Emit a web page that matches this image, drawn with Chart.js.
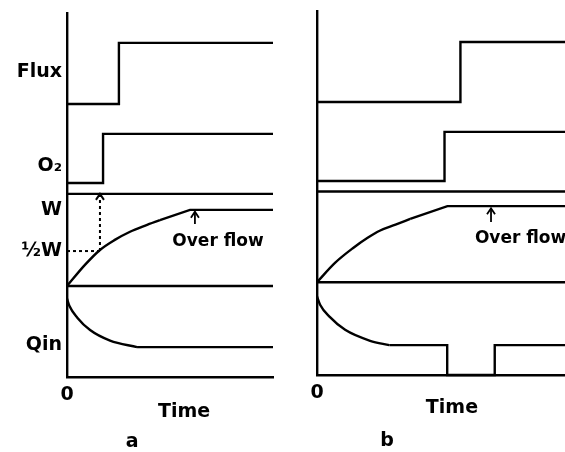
<!DOCTYPE html>
<html>
<head>
<meta charset="utf-8">
<script src="https://cdn.jsdelivr.net/npm/chart.js@4.4.0/dist/chart.umd.min.js"></script>
<style>
html, body { margin: 0; padding: 0; background: #fff; overflow: hidden; }
.panel { position: absolute; top: 0; height: 452px; }
#panelA { left: 0; width: 290px; }
#panelB { left: 290px; width: 275px; }
</style>
</head>
<body>
<div class="panel" id="panelA"><canvas id="chartA"></canvas></div>
<div class="panel" id="panelB"><canvas id="chartB"></canvas></div>
<script>
// level labels on the left axis (panel a only)
const levelLabels = ["Flux", "O₂", "W", "½W", "Qin"];
const levelValues = [83.8, 58, 45.9, 34.6, 8.8];

// panel a  (time 0..10, level 0..100)
const fluxTA = [0, 2.52, 2.52, 10];
const fluxVA = [75, 75, 91.8, 91.8];
const o2TA = [0, 1.75, 1.75, 10];
const o2VA = [53.3, 53.3, 66.8, 66.8];
const wTA = [0, 10];
const wVA = [50.3, 50.3];
const waterCurveTA = [0, 0.87, 1.6, 2.3, 3.06, 3.8, 4.51];
const waterCurveVA = [25, 30.8, 34.9, 37.6, 39.9, 41.6, 43.1];
const waterLineTA = [4.51, 5.97, 10];
const waterLineVA = [43.1, 45.9, 45.9];
const baseTA = [0, 10];
const baseVA = [25, 25];
const qinCurveTA = [0, 0.12, 0.5, 1.12, 2.09, 3.4];
const qinCurveVA = [21.5, 19.5, 16.3, 12.9, 10.0, 8.2];
const qinLineTA = [3.4, 10];
const qinLineVA = [8.2, 8.2];
const halfWTA = [0, 1.6];
const halfWVA = [34.6, 34.6];

// panel b  (time 0..12)
const fluxTB = [0, 6.94, 6.94, 12];
const fluxVB = [75, 75, 91.5, 91.5];
const o2TB = [0, 6.17, 6.17, 12];
const o2VB = [53.3, 53.3, 66.8, 66.8];
const wTB = [0, 12];
const wVB = [50.4, 50.4];
const waterCurveTB = [0, 0.87, 1.75, 2.45, 3.06, 3.8, 4.51];
const waterCurveVB = [25.5, 30.8, 34.9, 37.7, 39.7, 41.3, 42.9];
const waterLineTB = [4.51, 6.31, 12];
const waterLineVB = [42.9, 46.4, 46.4];
const baseTB = [0, 12];
const baseVB = [25.5, 25.5];
const qinCurveTB = [0, 0.15, 0.63, 1.36, 2.57, 3.5];
const qinCurveVB = [21.6, 19.3, 15.9, 12.4, 9.4, 8.2];
const qinStepTB = [3.5, 6.3, 6.3, 8.6, 8.6, 12];
const qinStepVB = [8.2, 8.2, 0, 0, 8.2, 8.2];

const FONT = "'DejaVu Sans', sans-serif";
Chart.defaults.font.family = FONT;
Chart.defaults.font.size = 19;
Chart.defaults.font.weight = "bold";
Chart.defaults.color = "#000";

const line = (ts, vs, extra) => Object.assign({
	data: ts.map((t, i) => ({ x: t, y: vs[i] })),
	borderColor: "#000",
	borderWidth: 2.4,
	pointRadius: 0,
	tension: 0,
	clip: false,
}, extra || {});

const smooth = { cubicInterpolationMode: "monotone" };

// draws arrows and free text with the chart's own scales
const marksPlugin = {
	id: "marks",
	afterDatasetsDraw(chart, args, opts) {
		const { ctx, scales, chartArea } = chart;
		const px = (t) => scales.x.getPixelForValue(t);
		const py = (v) => scales.y.getPixelForValue(v);
		ctx.save();
		ctx.strokeStyle = "#000";
		(opts.arrows || []).forEach((a) => {
			const x = px(a.t), y0 = py(a.from), y1 = py(a.to);
			ctx.lineWidth = a.dash ? 2 : 1.8;
			ctx.setLineDash(a.dash ? [3, 3] : []);
			ctx.beginPath();
			ctx.moveTo(x, y0);
			ctx.lineTo(x, y1);
			ctx.stroke();
			ctx.setLineDash([]);
			ctx.beginPath();
			ctx.moveTo(x - 4, y1 + 6);
			ctx.lineTo(x, y1);
			ctx.lineTo(x + 4, y1 + 6);
			ctx.stroke();
		});
		ctx.fillStyle = "#000";
		ctx.textBaseline = "middle";
		(opts.texts || []).forEach((tx) => {
			ctx.font = "bold " + (tx.size || 19) + "px " + FONT;
			ctx.textAlign = tx.align || "center";
			const y = tx.v !== undefined ? py(tx.v) : chartArea.bottom + tx.below;
			ctx.fillText(tx.text, px(tx.t), y);
		});
		ctx.restore();
	},
};

const makeChart = (id, datasets, xMax, pad, yWidth, xHeight, showLevels, marks) => {
	return new Chart(document.getElementById(id), {
		type: "line",
		data: { datasets: datasets },
		plugins: [marksPlugin],
		options: {
			responsive: true,
			maintainAspectRatio: false,
			animation: false,
			layout: { padding: pad },
			plugins: { legend: { display: false }, tooltip: { enabled: false }, marks: marks },
			scales: {
				x: {
					type: "linear",
					min: 0,
					max: xMax,
					grid: { display: false, drawTicks: false },
					border: { display: true, color: "#000", width: 2.4 },
					ticks: { padding: 7, maxRotation: 0, autoSkip: false, callback: () => "0" },
					afterBuildTicks: (scale) => { scale.ticks = [{ value: 0 }]; },
					afterFit: (scale) => {
						scale.height = xHeight;
						scale.paddingLeft = 0;
						scale.paddingRight = 0;
					},
				},
				y: {
					min: 0,
					max: 100,
					grid: { display: false, drawTicks: false },
					border: { display: true, color: "#000", width: 2.4 },
					ticks: {
						display: showLevels,
						padding: 5,
						autoSkip: false,
						callback: (value, index) => levelLabels[index],
					},
					afterBuildTicks: (scale) => { scale.ticks = levelValues.map((v) => ({ value: v })); },
					afterFit: (scale) => {
						scale.width = yWidth;
						scale.paddingTop = 0;
						scale.paddingBottom = 0;
					},
				},
			},
		},
	});
};

makeChart("chartA", [
	line(fluxTA, fluxVA),
	line(o2TA, o2VA),
	line(wTA, wVA),
	line(waterCurveTA, waterCurveVA, smooth),
	line(waterLineTA, waterLineVA),
	line(baseTA, baseVA),
	line(qinCurveTA, qinCurveVA, smooth),
	line(qinLineTA, qinLineVA),
	line(halfWTA, halfWVA, { borderWidth: 2, borderDash: [3, 3] }),
], 10, { top: 13, right: 17, left: 0, bottom: 0 }, 67, 75, true, {
	arrows: [
		{ t: 1.6, from: 34.6, to: 50.3, dash: true },
		{ t: 6.21, from: 42, to: 45.4 },
	],
	texts: [
		{ text: "Over flow", t: 7.33, v: 37.1, size: 17 },
		{ text: "Time", t: 5.68, below: 35 },
		{ text: "a", t: 3.16, below: 65 },
	],
});

makeChart("chartB", [
	line(fluxTB, fluxVB),
	line(o2TB, o2VB),
	line(wTB, wVB),
	line(waterCurveTB, waterCurveVB, smooth),
	line(waterLineTB, waterLineVB),
	line(baseTB, baseVB),
	line(qinCurveTB, qinCurveVB, smooth),
	line(qinStepTB, qinStepVB),
], 12, { top: 11, right: 0, left: 0, bottom: 0 }, 27, 77, false, {
	arrows: [
		{ t: 8.42, from: 42, to: 45.8 },
	],
	texts: [
		{ text: "Over flow", t: 7.64, v: 37.4, size: 17, align: "left" },
		{ text: "Time", t: 6.53, below: 33 },
		{ text: "b", t: 3.39, below: 66 },
	],
});
</script>
</body>
</html>
